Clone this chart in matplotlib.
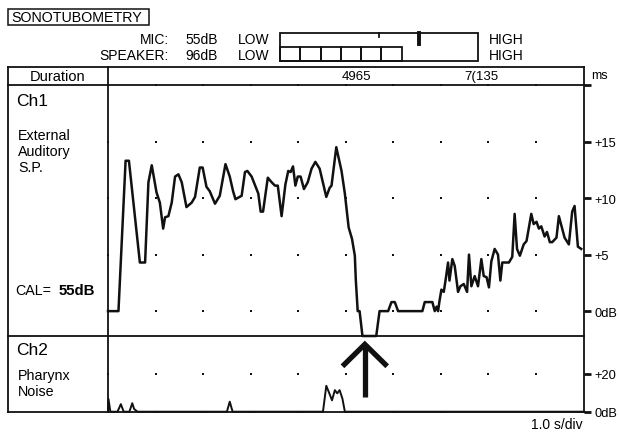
import matplotlib
matplotlib.use("Agg")
import matplotlib.pyplot as plt
from matplotlib.patches import Rectangle

plt.rcParams['font.family'] = ['Liberation Sans', 'DejaVu Sans']

# Ch1 - external auditory S.P. (time in s, level in dB)
ch1_t = [0.0, 0.22, 0.37, 0.44, 0.67, 0.78, 0.85, 0.92, 1.02, 1.09, 1.16, 1.20, 1.27,
         1.34, 1.41, 1.48, 1.55, 1.65, 1.76, 1.83, 1.93, 1.99, 2.07, 2.14, 2.25, 2.35,
         2.47, 2.56, 2.63, 2.68, 2.81, 2.88, 2.93, 3.02, 3.16, 3.21, 3.26, 3.36, 3.44,
         3.51, 3.57, 3.65, 3.73, 3.79, 3.84, 3.89, 3.94, 3.99, 4.05, 4.12, 4.20, 4.28,
         4.36, 4.45, 4.59, 4.66, 4.70, 4.80, 4.91, 4.98, 5.06, 5.13, 5.19, 5.21, 5.25,
         5.29, 5.35, 5.64, 5.71, 5.89, 5.96, 6.03, 6.10, 6.61, 6.66, 6.82, 6.87, 6.91,
         6.94, 6.97, 7.01, 7.06, 7.10, 7.15, 7.18, 7.24, 7.29, 7.36, 7.41, 7.48, 7.55,
         7.59, 7.64, 7.71, 7.78, 7.85, 7.90, 7.96, 8.01, 8.06, 8.13, 8.20, 8.25, 8.29,
         8.43, 8.50, 8.55, 8.60, 8.66, 8.74, 8.80, 8.90, 8.95, 9.01, 9.06, 9.11, 9.18,
         9.23, 9.29, 9.34, 9.43, 9.48, 9.55, 9.60, 9.69, 9.76, 9.81, 9.88, 9.95]
ch1_db = [0, 0, 13.3, 13.3, 4.3, 4.3, 11.4, 12.9, 10.5, 9.6, 7.3, 8.3, 8.4,
          9.6, 11.9, 12.1, 11.4, 9.2, 9.6, 10.1, 12.7, 12.7, 11.0, 10.6, 9.5, 10.2,
          13.0, 11.9, 10.6, 9.9, 10.2, 12.3, 12.4, 11.9, 10.4, 8.8, 8.8, 11.8, 11.4,
          11.1, 11.1, 8.4, 11.2, 12.4, 12.3, 12.8, 11.1, 11.9, 11.9, 10.8, 11.4, 12.6,
          13.2, 12.6, 10.1, 10.9, 11.1, 14.5, 12.4, 10.4, 7.4, 6.4, 4.9, 2.8, 0,
          0, -2.2, -2.2, 0, 0, 0.8, 0.8, 0, 0, 0.8, 0.8, 0, 0.4,
          0, 0.9, 1.9, 1.7, 2.8, 4.3, 2.7, 4.6, 4.0, 1.7, 2.2, 2.4, 1.7,
          5.0, 2.2, 3.1, 2.2, 4.6, 3.1, 3.0, 2.1, 4.4, 5.5, 5.0, 2.7, 4.3,
          4.3, 4.8, 8.6, 5.5, 4.9, 5.9, 6.2, 8.6, 7.7, 7.9, 7.3, 7.5, 6.6,
          7.0, 6.1, 6.1, 6.5, 8.4, 7.3, 6.5, 5.9, 8.8, 9.3, 5.7, 5.5]

# Ch2 - pharynx noise
ch2_t = [0.0, 0.01, 0.05, 0.2, 0.27, 0.33, 0.45, 0.51, 0.55, 0.62, 2.5, 2.56, 2.62,
         4.52, 4.59, 4.66, 4.71, 4.77, 4.82, 4.87, 4.93, 4.98, 10.0]
ch2_db = [0, 6.7, 0, 0, 4.0, 0, 0, 4.5, 1.4, 0, 0, 5.3, 0,
          0, 13.7, 9.3, 6.0, 11.4, 9.7, 11.4, 6.8, 0, 0]

ch1_ticks = [0, 5, 10, 15, 20]
ch1_ticklabels = ['0dB', '+5', '+10', '+15', '']
ch2_ticks = [0, 20]
ch2_ticklabels = ['0dB', '+20']
grid_t = [0, 1, 2, 3, 4, 5, 6, 7, 8, 9]
arrow_t = 5.4

duration_marks = ['4965', '7(135']
mic_db, speaker_db = '55dB', '96dB'
speaker_segments = 6

W, H = 619, 435
fig = plt.figure(figsize=(W / 100, H / 100), dpi=100)
fig.patch.set_facecolor('white')

# overlay in pixel coordinates for the frame and labels
ax0 = fig.add_axes([0, 0, 1, 1])
ax0.set_xlim(0, W)
ax0.set_ylim(H, 0)
ax0.axis('off')

L, R, DIV = 8, 583.6, 108
TOP, DUR, MID, BOT = 67.5, 86, 337, 412.7
lc = '#111111'
for y in [TOP, DUR, MID, BOT]:
    ax0.plot([L, R], [y, y], color=lc, lw=1.3)
for x in [L, DIV, R]:
    ax0.plot([x, x], [TOP, BOT], color=lc, lw=1.3)

# title box
ax0.add_patch(Rectangle((8, 10), 141, 16, fill=False, ec=lc, lw=1.1))
ax0.text(11, 18.5, 'SONOTUBOMETRY', fontsize=10.3, va='center', ha='left')

# level meter
ax0.text(169, 40, 'MIC:', fontsize=10, ha='right', va='center')
ax0.text(169, 56, 'SPEAKER:', fontsize=10, ha='right', va='center')
ax0.text(185, 40, mic_db, fontsize=10, ha='left', va='center')
ax0.text(185, 56, speaker_db, fontsize=10, ha='left', va='center')
for y in [40, 56]:
    ax0.text(238, y, 'LOW', fontsize=10, ha='left', va='center')
    ax0.text(489, y, 'HIGH', fontsize=10, ha='left', va='center')
ax0.add_patch(Rectangle((280, 34), 198, 28, fill=False, ec=lc, lw=1.3))
seg_w = 20.28
for i in range(speaker_segments):
    ax0.add_patch(Rectangle((280 + i * seg_w, 48.3), seg_w, 13.7, fill=False, ec=lc, lw=1.3))
ax0.plot([379, 379], [34, 38], color=lc, lw=1.3)
ax0.plot([419, 419], [34, 45], color=lc, lw=2.8)

# duration row
ax0.text(58, 77, 'Duration', fontsize=10.5, ha='center', va='center')
ax0.text(356, 77, duration_marks[0], fontsize=9.5, ha='center', va='center')
ax0.text(481, 77, duration_marks[1], fontsize=9.5, ha='center', va='center')
ax0.text(591, 76, 'ms', fontsize=9, ha='left', va='center')

# channel captions
ax0.text(16, 102, 'Ch1', fontsize=12.5, ha='left', va='center')
for y, s in zip([136, 152, 168], ['External', 'Auditory', 'S.P.']):
    ax0.text(18, y, s, fontsize=10.3, ha='left', va='center')
ax0.text(15, 291, 'CAL=', fontsize=10.3, ha='left', va='center')
ax0.text(59, 291, '55dB', fontsize=10.8, ha='left', va='center', fontweight='bold')
ax0.text(16, 351, 'Ch2', fontsize=12.5, ha='left', va='center')
ax0.text(18, 376, 'Pharynx', fontsize=10.3, ha='left', va='center')
ax0.text(18, 392, 'Noise', fontsize=10.3, ha='left', va='center')
ax0.text(583, 425, '1.0 s/div', fontsize=10, ha='right', va='center')


def data_axes(top, bottom):
    a = fig.add_axes([DIV / W, (H - bottom) / H, (R - DIV) / W, (bottom - top) / H])
    a.set_facecolor('none')
    for sp in a.spines.values():
        sp.set_visible(False)
    a.set_xlim(0, 10)
    a.xaxis.set_visible(False)
    a.yaxis.tick_right()
    a.tick_params(axis='y', direction='out', length=5, width=2, pad=3,
                  labelsize=9.3, color=lc)
    return a


ax1 = data_axes(DUR, MID)
ax1.set_ylim(-2.2, 20)
ax1.set_yticks(ch1_ticks)
ax1.set_yticklabels(ch1_ticklabels)
gx = [t for t in grid_t for _ in ch1_ticks]
gy = [v for _ in grid_t for v in ch1_ticks]
ax1.scatter(gx, gy, s=4.5, marker='s', color=lc, linewidths=0, clip_on=False)
ax1.plot(ch1_t, ch1_db, color=lc, lw=1.8, clip_on=False)

ax2 = data_axes(MID, BOT)
ax2.set_ylim(0, 40)
ax2.set_yticks(ch2_ticks)
ax2.set_yticklabels(ch2_ticklabels)
gx2 = [t for t in grid_t for _ in ch2_ticks]
gy2 = [v for _ in grid_t for v in ch2_ticks]
ax2.scatter(gx2, gy2, s=4.5, marker='s', color=lc, linewidths=0, clip_on=False)
ax2.plot(ch2_t, ch2_db, color=lc, lw=1.4, clip_on=False)

# arrow marking the tube opening
ax2.plot([arrow_t, arrow_t], [35.6, 7.7], color=lc, lw=3.8, solid_capstyle='butt')
ax2.plot([arrow_t - 0.47, arrow_t, arrow_t + 0.47], [24, 35.6, 24], color=lc, lw=3.8,
         solid_joinstyle='miter', solid_capstyle='butt')

fig.savefig('out.png', dpi=100, facecolor='white')
